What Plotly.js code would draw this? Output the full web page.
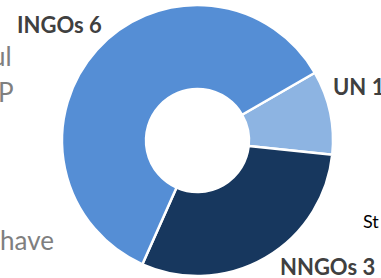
<!DOCTYPE html>
<html>
<head>
<meta charset="utf-8">
<script src="https://cdn.plot.ly/plotly-3.0.1.min.js"></script>
<style>html,body{margin:0;padding:0;background:#fff;}#chart{width:381px;height:278px;}</style>
</head>
<body>
<div id="chart"></div>
<script>
// Data
const categories = ["UN", "NNGOs", "INGOs"];
const counts = [1, 3, 6];
const sliceColors = ["#8DB4E2", "#17375E", "#558ED5"];
// Fragments of surrounding slide text visible in the crop
const sideTexts = ["ul", "P", "have"];
const noteText = "St";

const W = 381, H = 278;
const px = x => x / W;
const py = y => 1 - y / H;

const labelPos = {
  "INGOs": {x: 15, y: 24, xanchor: "left"},
  "UN": {x: 331, y: 86, xanchor: "left"},
  "NNGOs": {x: 377, y: 266, xanchor: "right"}
};

const annotations = categories.map((c, i) => ({
  text: "<b>" + c + " " + counts[i] + "</b>",
  x: px(labelPos[c].x), y: py(labelPos[c].y),
  xref: "paper", yref: "paper",
  xanchor: labelPos[c].xanchor, yanchor: "middle",
  showarrow: false,
  font: {family: "Lato, 'Open Sans', sans-serif", size: 22, color: "#404040"}
}));

const sidePos = [{x: 14, y: 56}, {x: 16, y: 92}, {x: 56, y: 240}];
sideTexts.forEach((t, i) => {
  annotations.push({
    text: t, x: px(sidePos[i].x), y: py(sidePos[i].y),
    xref: "paper", yref: "paper", xanchor: "right", yanchor: "middle",
    showarrow: false,
    font: {family: "Lato, 'Open Sans', sans-serif", size: 26, color: "#7F7F7F"}
  });
});
annotations.push({
  text: noteText, x: px(361), y: py(221),
  xref: "paper", yref: "paper", xanchor: "left", yanchor: "middle",
  showarrow: false,
  font: {family: "Lato, 'Open Sans', sans-serif", size: 18, color: "#000000"}
});

const trace = {
  type: "pie",
  labels: categories,
  values: counts,
  sort: false,
  direction: "clockwise",
  rotation: 60,
  hole: 0.38,
  textinfo: "none",
  hoverinfo: "label+value",
  marker: {colors: sliceColors, line: {color: "#FFFFFF", width: 2.5}},
  domain: {x: [px(62), px(333)], y: [py(276), py(5)]},
  showlegend: false
};

const layout = {
  width: W, height: H,
  margin: {l: 0, r: 0, t: 0, b: 0},
  paper_bgcolor: "#FFFFFF",
  showlegend: false,
  annotations: annotations
};

Plotly.newPlot("chart", [trace], layout, {displayModeBar: false, staticPlot: true});
</script>
</body>
</html>
